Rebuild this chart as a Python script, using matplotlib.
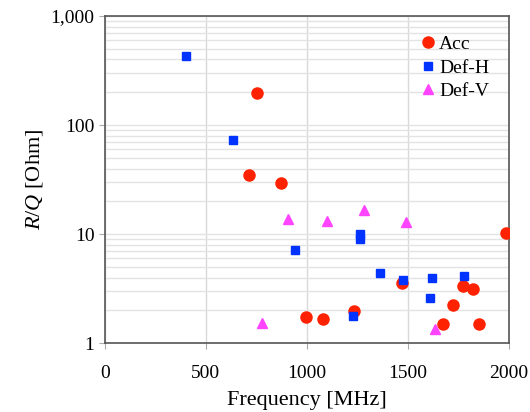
import numpy as np
import matplotlib.pyplot as plt
from matplotlib.ticker import FuncFormatter, LogLocator, NullFormatter

plt.rcParams['font.family'] = ['Liberation Serif', 'DejaVu Serif']
plt.rcParams['mathtext.fontset'] = 'custom'
plt.rcParams['mathtext.rm'] = 'Liberation Serif'
plt.rcParams['mathtext.it'] = 'Liberation Serif:italic'

# Acc
acc_f = [755, 711, 874, 998, 1081, 1235, 1472, 1674, 1723, 1773, 1822, 1852, 1985]
acc_rq = [198, 35, 29.6, 1.73, 1.66, 1.96, 3.53, 1.49, 2.22, 3.32, 3.11, 1.49, 10.3]
# Def-H
defh_f = [400, 632, 943, 1264, 1264, 1363, 1477, 1620, 1610, 1778, 1230]
defh_rq = [431, 73, 7.2, 10.1, 9.0, 4.37, 3.76, 3.93, 2.58, 4.09, 1.76]
# Def-V
defv_f = [780, 909, 1101, 1284, 1491, 1635]
defv_rq = [1.52, 13.9, 13.3, 16.8, 12.8, 1.34]

fig = plt.figure(figsize=(5.3, 4.12), dpi=100)
ax = fig.add_axes([0.198, 0.167, 0.762, 0.794])

ax.plot(acc_f, acc_rq, 'o', color='#ff2200', ms=8, mec='#ff2200', label='Acc', zorder=3)
ax.plot(defh_f, defh_rq, 's', color='#0033ff', ms=5.8, mec='#0033ff', label='Def-H', zorder=3)
ax.plot(defv_f, defv_rq, '^', color='#ff44ff', ms=7.5, mec='#ff44ff', label='Def-V', zorder=3)

ax.set_yscale('log')
ax.set_xlim(0, 2000)
ax.set_ylim(1, 1000)
ax.set_xticks([0, 500, 1000, 1500, 2000])
ax.yaxis.set_major_locator(LogLocator(base=10, numticks=10))
ax.yaxis.set_minor_locator(LogLocator(base=10, subs=np.arange(2, 10), numticks=20))
ax.yaxis.set_major_formatter(FuncFormatter(lambda v, p: '{:,.0f}'.format(v)))
ax.yaxis.set_minor_formatter(NullFormatter())

ax.grid(True, which='major', axis='x', color='#d9d9d9', lw=1)
ax.grid(True, which='both', axis='y', color='#e3e3e3', lw=1)
ax.set_axisbelow(True)

for s in ax.spines.values():
    s.set_color('#555555')
    s.set_linewidth(1.2)
ax.tick_params(which='major', direction='out', length=4, color='#aaaaaa', labelsize=14)
ax.tick_params(which='minor', left=False)
ax.tick_params(axis='x', pad=12)

ax.set_xlabel('Frequency [MHz]', fontsize=16, labelpad=6)
ax.set_ylabel('$R/Q$ [Ohm]', fontsize=16)

leg = ax.legend(loc='upper right', frameon=False, fontsize=14, handletextpad=0.0,
                labelspacing=0.3, handlelength=1.2, borderaxespad=0.6, bbox_to_anchor=(1.0, 1.0))

fig.savefig('out.png', dpi=100)
